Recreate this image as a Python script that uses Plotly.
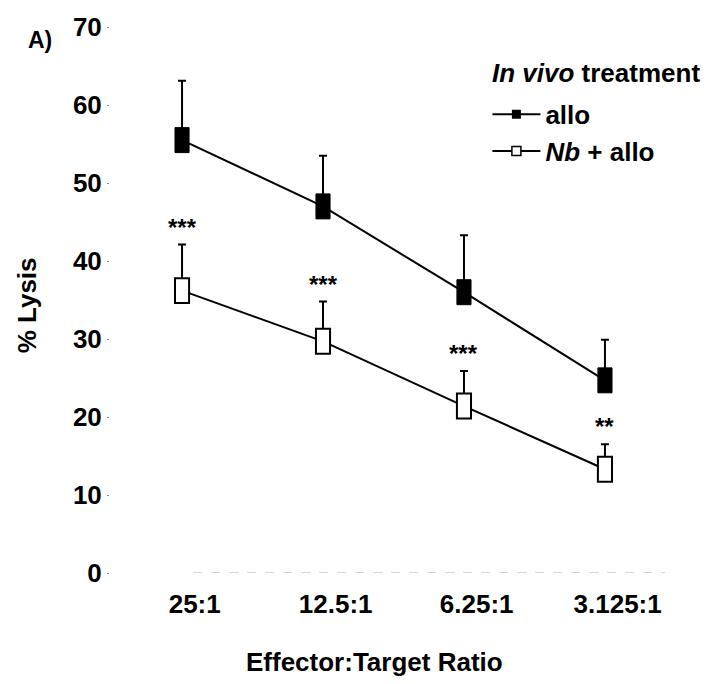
import plotly.graph_objects as go

# ---- data ----
ratios = ["25:1", "12.5:1", "6.25:1", "3.125:1"]
allo_mean = [55.5, 47.0, 36.0, 24.7]
allo_err = [7.6, 6.5, 7.3, 5.2]
nb_mean = [36.2, 29.7, 21.4, 13.3]
nb_err = [5.9, 5.1, 4.5, 3.2]
signif = ["***", "***", "***", "**"]
y_ticks = [0, 10, 20, 30, 40, 50, 60, 70]

FONT = "Liberation Sans, Arial, sans-serif"
FS = 26
xi = list(range(len(ratios)))

fig = go.Figure()

fig.add_trace(go.Scatter(
    x=xi, y=allo_mean, mode="lines+markers", name="allo",
    line=dict(color="black", width=2),
    marker=dict(symbol="square", size=9, color="black"),
    error_y=dict(type="data", array=allo_err, arrayminus=[0]*4, symmetric=False,
                 color="black", thickness=2, width=4),
    legendgroup="a",
))
fig.add_trace(go.Scatter(
    x=xi, y=nb_mean, mode="lines+markers", name="<i>Nb</i> + allo",
    line=dict(color="black", width=2),
    marker=dict(symbol="square", size=9, color="white", line=dict(color="black", width=1.5)),
    error_y=dict(type="data", array=nb_err, arrayminus=[0]*4, symmetric=False,
                 color="black", thickness=2, width=4),
    legendgroup="b",
))

# tall rectangular markers
hw, hh = 0.05, 1.6
for i in xi:
    fig.add_shape(type="rect", xref="x", yref="y", layer="above",
                  x0=i - hw, x1=i + hw, y0=allo_mean[i] - hh, y1=allo_mean[i] + hh,
                  fillcolor="black", line=dict(color="black", width=1))
    fig.add_shape(type="rect", xref="x", yref="y", layer="above",
                  x0=i - hw, x1=i + hw, y0=nb_mean[i] - hh, y1=nb_mean[i] + hh,
                  fillcolor="white", line=dict(color="black", width=2))
    fig.add_annotation(x=i, y=nb_mean[i] + nb_err[i], text=signif[i], showarrow=False,
                       xref="x", yref="y", yanchor="bottom", yshift=2,
                       font=dict(family=FONT, size=24, color="black", weight="bold"))

# faint x axis line
fig.add_shape(type="line", xref="paper", yref="y", x0=0.15, x1=1, y0=0, y1=0,
              line=dict(color="#aaaaaa", width=1, dash="dash"))

fig.add_annotation(text="A)", xref="paper", yref="paper", x=-0.126, y=0.976,
                   xanchor="center", yanchor="middle", showarrow=False,
                   font=dict(family=FONT, size=23, color="black", weight="bold"))
fig.add_annotation(text="<i>In vivo</i> <b>treatment</b>", xref="paper", yref="paper",
                   x=1.067, y=0.915, xanchor="right", yanchor="middle", showarrow=False,
                   font=dict(family=FONT, size=FS, color="black"))
fig.add_annotation(text="<b>% Lysis</b>", xref="paper", yref="paper", x=-0.148, y=0.49,
                   textangle=-90, xanchor="center", yanchor="middle", showarrow=False,
                   font=dict(family=FONT, size=FS, color="black"))
fig.add_annotation(text="<b>Effector:Target Ratio</b>", xref="paper", yref="paper",
                   x=0.477, y=-0.163, xanchor="center", yanchor="middle", showarrow=False,
                   font=dict(family=FONT, size=FS, color="black"))

fig.update_layout(
    width=707, height=684,
    margin=dict(l=110, r=42, t=21, b=111),
    paper_bgcolor="white", plot_bgcolor="white",
    font=dict(family=FONT, size=FS, color="black", weight="bold"),
    showlegend=True,
    legend=dict(x=0.68, y=0.883, xanchor="left", yanchor="top", bgcolor="rgba(0,0,0,0)",
                font=dict(family=FONT, size=FS, color="black", weight="bold"),
                tracegroupgap=0, itemwidth=48),
    xaxis=dict(range=[-0.511, 3.426], tickvals=[i + 0.09 for i in xi], ticktext=ratios,
               showgrid=False, zeroline=False, showline=False, ticks="",
               ticklabelstandoff=13,
               tickfont=dict(family=FONT, size=FS, color="black", weight="bold")),
    yaxis=dict(range=[0, 70], tickvals=y_ticks, showgrid=False, zeroline=False,
               showline=False, ticks="outside", ticklen=2, tickcolor="#888888", tickwidth=1,
               tickfont=dict(family=FONT, size=FS, color="black", weight="bold")),
)

fig.write_html("out.html")
